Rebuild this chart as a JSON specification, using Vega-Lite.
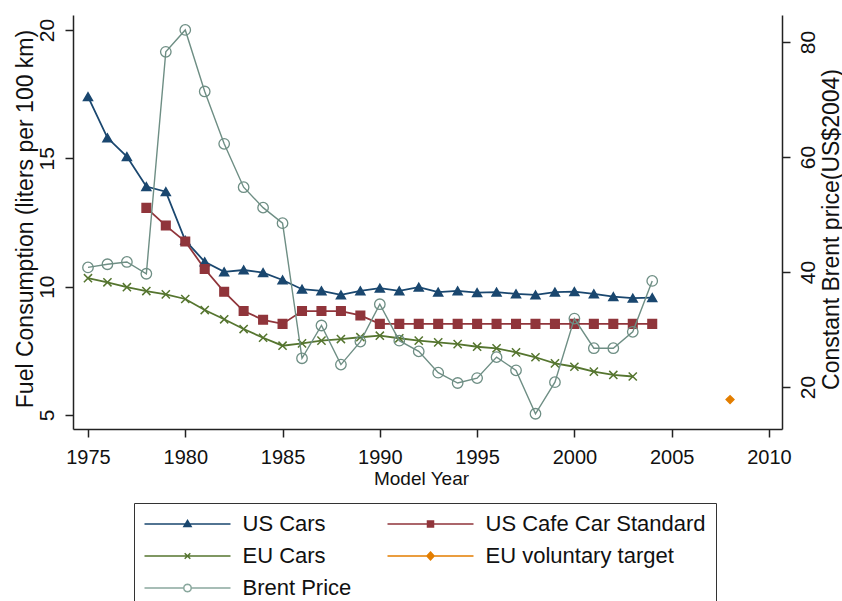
{
  "$schema": "https://vega.github.io/schema/vega-lite/v6.json",
  "width": 709,
  "height": 414,
  "autosize": "none",
  "padding": {"left": 73, "top": 15, "right": 60, "bottom": 172},
  "config": {"view": {"stroke": null}, "font": "Liberation Sans"},
  "datasets": {
    "fuel": [
      {"series": "US Cars", "year": 1975, "value": 17.4},
      {"series": "US Cars", "year": 1976, "value": 15.8},
      {"series": "US Cars", "year": 1977, "value": 15.07},
      {"series": "US Cars", "year": 1978, "value": 13.9},
      {"series": "US Cars", "year": 1979, "value": 13.7},
      {"series": "US Cars", "year": 1980, "value": 11.8},
      {"series": "US Cars", "year": 1981, "value": 10.97},
      {"series": "US Cars", "year": 1982, "value": 10.58},
      {"series": "US Cars", "year": 1983, "value": 10.65},
      {"series": "US Cars", "year": 1984, "value": 10.55},
      {"series": "US Cars", "year": 1985, "value": 10.26},
      {"series": "US Cars", "year": 1986, "value": 9.9},
      {"series": "US Cars", "year": 1987, "value": 9.84},
      {"series": "US Cars", "year": 1988, "value": 9.68},
      {"series": "US Cars", "year": 1989, "value": 9.84},
      {"series": "US Cars", "year": 1990, "value": 9.94},
      {"series": "US Cars", "year": 1991, "value": 9.84},
      {"series": "US Cars", "year": 1992, "value": 9.98},
      {"series": "US Cars", "year": 1993, "value": 9.79},
      {"series": "US Cars", "year": 1994, "value": 9.84},
      {"series": "US Cars", "year": 1995, "value": 9.77},
      {"series": "US Cars", "year": 1996, "value": 9.79},
      {"series": "US Cars", "year": 1997, "value": 9.72},
      {"series": "US Cars", "year": 1998, "value": 9.68},
      {"series": "US Cars", "year": 1999, "value": 9.79},
      {"series": "US Cars", "year": 2000, "value": 9.81},
      {"series": "US Cars", "year": 2001, "value": 9.72},
      {"series": "US Cars", "year": 2002, "value": 9.61},
      {"series": "US Cars", "year": 2003, "value": 9.55},
      {"series": "US Cars", "year": 2004, "value": 9.57},
      {"series": "US Cafe Car Standard", "year": 1978, "value": 13.07},
      {"series": "US Cafe Car Standard", "year": 1979, "value": 12.38},
      {"series": "US Cafe Car Standard", "year": 1980, "value": 11.76},
      {"series": "US Cafe Car Standard", "year": 1981, "value": 10.69},
      {"series": "US Cafe Car Standard", "year": 1982, "value": 9.8},
      {"series": "US Cafe Car Standard", "year": 1983, "value": 9.05},
      {"series": "US Cafe Car Standard", "year": 1984, "value": 8.71},
      {"series": "US Cafe Car Standard", "year": 1985, "value": 8.55},
      {"series": "US Cafe Car Standard", "year": 1986, "value": 9.05},
      {"series": "US Cafe Car Standard", "year": 1987, "value": 9.05},
      {"series": "US Cafe Car Standard", "year": 1988, "value": 9.05},
      {"series": "US Cafe Car Standard", "year": 1989, "value": 8.88},
      {"series": "US Cafe Car Standard", "year": 1990, "value": 8.55},
      {"series": "US Cafe Car Standard", "year": 1991, "value": 8.55},
      {"series": "US Cafe Car Standard", "year": 1992, "value": 8.55},
      {"series": "US Cafe Car Standard", "year": 1993, "value": 8.55},
      {"series": "US Cafe Car Standard", "year": 1994, "value": 8.55},
      {"series": "US Cafe Car Standard", "year": 1995, "value": 8.55},
      {"series": "US Cafe Car Standard", "year": 1996, "value": 8.55},
      {"series": "US Cafe Car Standard", "year": 1997, "value": 8.55},
      {"series": "US Cafe Car Standard", "year": 1998, "value": 8.55},
      {"series": "US Cafe Car Standard", "year": 1999, "value": 8.55},
      {"series": "US Cafe Car Standard", "year": 2000, "value": 8.55},
      {"series": "US Cafe Car Standard", "year": 2001, "value": 8.55},
      {"series": "US Cafe Car Standard", "year": 2002, "value": 8.55},
      {"series": "US Cafe Car Standard", "year": 2003, "value": 8.55},
      {"series": "US Cafe Car Standard", "year": 2004, "value": 8.55},
      {"series": "EU Cars", "year": 1975, "value": 10.33},
      {"series": "EU Cars", "year": 1976, "value": 10.17},
      {"series": "EU Cars", "year": 1977, "value": 9.98},
      {"series": "EU Cars", "year": 1978, "value": 9.83},
      {"series": "EU Cars", "year": 1979, "value": 9.7},
      {"series": "EU Cars", "year": 1980, "value": 9.52},
      {"series": "EU Cars", "year": 1981, "value": 9.09},
      {"series": "EU Cars", "year": 1982, "value": 8.73},
      {"series": "EU Cars", "year": 1983, "value": 8.35},
      {"series": "EU Cars", "year": 1984, "value": 8.01},
      {"series": "EU Cars", "year": 1985, "value": 7.7},
      {"series": "EU Cars", "year": 1986, "value": 7.79},
      {"series": "EU Cars", "year": 1987, "value": 7.9},
      {"series": "EU Cars", "year": 1988, "value": 7.96},
      {"series": "EU Cars", "year": 1989, "value": 8.03},
      {"series": "EU Cars", "year": 1990, "value": 8.09},
      {"series": "EU Cars", "year": 1991, "value": 7.99},
      {"series": "EU Cars", "year": 1992, "value": 7.9},
      {"series": "EU Cars", "year": 1993, "value": 7.83},
      {"series": "EU Cars", "year": 1994, "value": 7.76},
      {"series": "EU Cars", "year": 1995, "value": 7.66},
      {"series": "EU Cars", "year": 1996, "value": 7.6},
      {"series": "EU Cars", "year": 1997, "value": 7.44},
      {"series": "EU Cars", "year": 1998, "value": 7.25},
      {"series": "EU Cars", "year": 1999, "value": 7.01},
      {"series": "EU Cars", "year": 2000, "value": 6.88},
      {"series": "EU Cars", "year": 2001, "value": 6.69},
      {"series": "EU Cars", "year": 2002, "value": 6.56},
      {"series": "EU Cars", "year": 2003, "value": 6.5},
      {"series": "EU voluntary target", "year": 2008, "value": 5.6}
    ],
    "brent": [
      {"year": 1975, "price": 40.8},
      {"year": 1976, "price": 41.35},
      {"year": 1977, "price": 41.75},
      {"year": 1978, "price": 39.7},
      {"year": 1979, "price": 78.3},
      {"year": 1980, "price": 82.1},
      {"year": 1981, "price": 71.4},
      {"year": 1982, "price": 62.3},
      {"year": 1983, "price": 54.75},
      {"year": 1984, "price": 51.2},
      {"year": 1985, "price": 48.5},
      {"year": 1986, "price": 25.0},
      {"year": 1987, "price": 30.7},
      {"year": 1988, "price": 23.9},
      {"year": 1989, "price": 27.9},
      {"year": 1990, "price": 34.4},
      {"year": 1991, "price": 28.06},
      {"year": 1992, "price": 26.2},
      {"year": 1993, "price": 22.5},
      {"year": 1994, "price": 20.7},
      {"year": 1995, "price": 21.55},
      {"year": 1996, "price": 25.2},
      {"year": 1997, "price": 22.9},
      {"year": 1998, "price": 15.35},
      {"year": 1999, "price": 20.85},
      {"year": 2000, "price": 31.9},
      {"year": 2001, "price": 26.75},
      {"year": 2002, "price": 26.75},
      {"year": 2003, "price": 29.6},
      {"year": 2004, "price": 38.45}
    ]
  },
  "layer": [
    {
      "data": {"name": "fuel"},
      "encoding": {
        "x": {
          "field": "year", "type": "quantitative",
          "scale": {"domain": [1974.23, 2010.67], "nice": false, "zero": false},
          "axis": {
            "title": "Model Year", "values": [1975, 1980, 1985, 1990, 1995, 2000, 2005, 2010],
            "format": "d", "grid": false, "tickSize": 8, "labelPadding": 10,
            "labelFontSize": 20, "labelFont": "Liberation Sans", "labelColor": "#111",
            "labelFlush": false, "labelOverlap": false,
            "titleFontSize": 19, "titleFont": "Liberation Sans", "titleFontWeight": "normal", "titleColor": "#111",
            "titleBaseline": "alphabetic", "titleY": 55, "titleX": 348,
            "domainColor": "#222", "domainWidth": 1.5, "tickColor": "#222", "tickWidth": 1.5
          }
        },
        "y": {
          "field": "value", "type": "quantitative",
          "scale": {"domain": [4.455, 20.584], "nice": false, "zero": false},
          "axis": {
            "title": "Fuel Consumption (liters per 100 km)", "values": [5, 10, 15, 20],
            "grid": false, "tickSize": 8, "labelAngle": -90, "labelAlign": "center",
            "labelBaseline": "alphabetic", "labelPadding": 12,
            "labelFontSize": 21, "labelFont": "Liberation Sans", "labelColor": "#111",
            "labelFlush": false, "labelOverlap": false,
            "titleFontSize": 23, "titleFont": "Liberation Sans", "titleFontWeight": "normal", "titleColor": "#111",
            "titleAngle": -90, "titleAlign": "center", "titleBaseline": "alphabetic", "titleX": -41, "titleY": 203.5,
            "domainColor": "#222", "domainWidth": 1.5, "tickColor": "#222", "tickWidth": 1.5
          }
        },
        "color": {
          "field": "series", "type": "nominal",
          "scale": {"domain": ["US Cars", "US Cafe Car Standard", "EU Cars", "EU voluntary target"], "range": ["#1a476f", "#90353b", "#55752f", "#e37e00"]},
          "legend": null
        }
      },
      "layer": [
        {"mark": {"type": "line", "strokeWidth": 1.8}},
        {
          "mark": {"type": "point", "filled": true, "strokeWidth": 1.5, "opacity": 1},
          "encoding": {
            "shape": {
              "field": "series", "type": "nominal",
              "scale": {"domain": ["US Cars", "US Cafe Car Standard", "EU Cars", "EU voluntary target"], "range": ["triangle-up", "square", "M-1,-1L1,1M-1,1L1,-1", "diamond"]},
              "legend": null
            },
            "stroke": {
              "field": "series", "type": "nominal",
              "scale": {"domain": ["US Cars", "US Cafe Car Standard", "EU Cars", "EU voluntary target"], "range": ["#1a476f", "#90353b", "#55752f", "#e37e00"]},
              "legend": null
            },
            "size": {
              "field": "series", "type": "nominal",
              "scale": {"domain": ["US Cars", "US Cafe Car Standard", "EU Cars", "EU voluntary target"], "range": [80, 60, 70, 80]},
              "legend": null
            }
          }
        }
      ]
    },
    {
      "data": {"name": "brent"},
      "encoding": {
        "x": {"field": "year", "type": "quantitative"},
        "y": {
          "field": "price", "type": "quantitative",
          "scale": {"domain": [12.7, 84.7], "nice": false, "zero": false},
          "axis": {
            "orient": "right", "title": "Constant Brent price(US$2004)", "values": [20, 40, 60, 80],
            "grid": false, "tickSize": 8, "labelAngle": -90, "labelAlign": "center",
            "labelBaseline": "alphabetic", "labelPadding": 24,
            "labelFontSize": 21, "labelFont": "Liberation Sans", "labelColor": "#111",
            "labelFlush": false, "labelOverlap": false,
            "titleFontSize": 23, "titleFont": "Liberation Sans", "titleFontWeight": "normal", "titleColor": "#111",
            "titleAngle": -90, "titleAlign": "center", "titleBaseline": "alphabetic", "titleX": 56, "titleY": 214,
            "domainColor": "#222", "domainWidth": 1.5, "tickColor": "#222", "tickWidth": 1.5
          }
        }
      },
      "layer": [
        {"mark": {"type": "line", "color": "#6e8e84", "strokeWidth": 1.4}},
        {"mark": {"type": "point", "shape": "circle", "filled": false, "color": "#6e8e84", "size": 110, "strokeWidth": 1.3, "opacity": 1}}
      ]
    },
    {
      "data": {"name": "fuel"},
      "transform": [{"filter": "datum.year > 3000"}],
      "mark": {"type": "point", "filled": false, "opacity": 1},
      "encoding": {
        "shape": {
          "field": "series", "type": "nominal",
          "scale": {
            "domain": ["US Cars", "US Cafe Car Standard", "EU Cars", "EU voluntary target", "Brent Price"],
            "range": [
              "M-10.75,0H10.75M0,-0.9L0.9,0.65L-0.9,0.65Z",
              "M-10.75,0H10.75M-0.75,-0.75H0.75V0.75H-0.75Z",
              "M-10.75,0H10.75M-0.7,-0.7L0.7,0.7M-0.7,0.7L0.7,-0.7",
              "M-10.75,0H10.75M0,-1L0.9,0L0,1L-0.9,0Z",
              "M-10.75,0H-0.95M0.95,0H10.75M0.95,0L0.82,0.48L0.48,0.82L0,0.95L-0.48,0.82L-0.82,0.48L-0.95,0L-0.82,-0.48L-0.48,-0.82L0,-0.95L0.48,-0.82L0.82,-0.48Z"
            ]
          },
          "legend": {
            "title": null, "orient": "none", "legendX": 61, "legendY": 488,
            "direction": "horizontal",
            "columns": 2, "columnPadding": 32, "rowPadding": 10, "padding": 10,
            "strokeColor": "#333", "fillColor": "white",
            "symbolSize": 64, "symbolStrokeWidth": 1.5, "symbolOffset": 32.5, "labelOffset": 44,
            "symbolOpacity": 1,
            "labelFontSize": 22, "labelFont": "Liberation Sans", "labelColor": "#111", "labelLimit": 400,
            "encoding": {
              "symbols": {
                "opacity": {"value": 1},
                "fill": {"value": {"expr": "datum.value == 'US Cars' ? '#1a476f' : datum.value == 'US Cafe Car Standard' ? '#90353b' : datum.value == 'EU voluntary target' ? '#e37e00' : 'transparent'"}},
                "stroke": {"value": {"expr": "datum.value == 'US Cars' ? '#1a476f' : datum.value == 'US Cafe Car Standard' ? '#90353b' : datum.value == 'EU Cars' ? '#55752f' : datum.value == 'EU voluntary target' ? '#e37e00' : '#8aa89e'"}}
              }
            }
          }
        }
      }
    }
  ],
  "resolve": {"scale": {"y": "independent", "shape": "independent"}, "axis": {"y": "independent"}}
}
